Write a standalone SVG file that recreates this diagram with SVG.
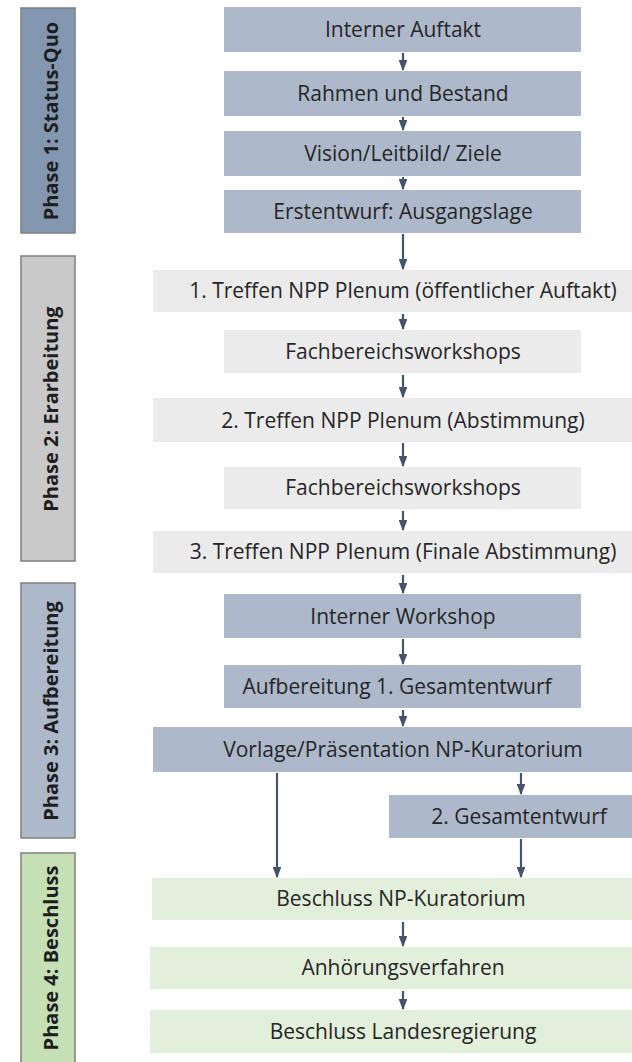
<svg xmlns="http://www.w3.org/2000/svg" width="632" height="1062" viewBox="0 0 632 1062">
<style>
.blue{fill:#adb9ca}
.gray{fill:#ebebeb}
.green{fill:#e2efda}
.t{font-family:"Open Sans","Liberation Sans",sans-serif;font-size:21px;fill:#262626;text-anchor:middle}
.ph{font-family:"Open Sans","Liberation Sans",sans-serif;font-size:20px;font-weight:bold;fill:#1e1e1e;text-anchor:middle}
.pb{stroke:#7f7f7f;stroke-width:1.5}
.c{stroke:#44546a;stroke-width:2.2;fill:none}
</style>
<defs>
<marker id="ah" markerWidth="5" markerHeight="4" refX="4.5" refY="2" orient="auto" markerUnits="strokeWidth">
<path d="M0,0 L5,2 L0,4 Z" fill="#44546a"/>
</marker>
</defs>
<rect width="632" height="1062" fill="#ffffff"/>
<g id="phase1"><rect class="pb" x="21" y="8" width="54" height="225" fill="#8497b0"/><text class="ph" transform="translate(58,121) rotate(-90)">Phase  1: Status-Quo</text></g>
<g id="phase2"><rect class="pb" x="21" y="256" width="54" height="305" fill="#c9c9c9"/><text class="ph" transform="translate(58,409) rotate(-90)">Phase  2: Erarbeitung</text></g>
<g id="phase3"><rect class="pb" x="21" y="583" width="54" height="255" fill="#adb9ca"/><text class="ph" transform="translate(58,711) rotate(-90)">Phase  3: Aufbereitung</text></g>
<g id="phase4"><rect class="pb" x="21" y="853" width="54" height="215" fill="#c5e0b4"/><text class="ph" transform="translate(58,958) rotate(-90)">Phase  4: Beschluss</text></g>

<g id="n1"><rect class="blue" x="224" y="7" width="357" height="45"/><text class="t" x="403" y="37">Interner Auftakt</text></g>
<g id="n2"><rect class="blue" x="224" y="71" width="357" height="45"/><text class="t" x="403" y="101">Rahmen und Bestand</text></g>
<g id="n3"><rect class="blue" x="224" y="131" width="357" height="45"/><text class="t" x="403" y="161">Vision/Leitbild/ Ziele</text></g>
<g id="n4"><rect class="blue" x="224" y="190" width="357" height="43"/><text class="t" x="403" y="219">Erstentwurf: Ausgangslage</text></g>
<g id="n5"><rect class="gray" x="153" y="270" width="479" height="42"/><text class="t" x="403" y="298">1. Treffen NPP Plenum (öffentlicher Auftakt)</text></g>
<g id="n6"><rect class="gray" x="224" y="330" width="357" height="43"/><text class="t" x="403" y="359">Fachbereichsworkshops</text></g>
<g id="n7"><rect class="gray" x="153" y="398" width="479" height="44"/><text class="t" x="403" y="428">2. Treffen NPP Plenum (Abstimmung)</text></g>
<g id="n8"><rect class="gray" x="224" y="467" width="357" height="42"/><text class="t" x="403" y="495">Fachbereichsworkshops</text></g>
<g id="n9"><rect class="gray" x="153" y="531" width="479" height="42"/><text class="t" x="403" y="559">3. Treffen NPP Plenum (Finale Abstimmung)</text></g>
<g id="n10"><rect class="blue" x="224" y="594" width="357" height="44"/><text class="t" x="403" y="624">Interner Workshop</text></g>
<g id="n11"><rect class="blue" x="224" y="665" width="357" height="43"/><text class="t" x="397" y="694">Aufbereitung 1. Gesamtentwurf</text></g>
<g id="n12"><rect class="blue" x="153" y="727" width="479" height="45"/><text class="t" x="403" y="757">Vorlage/Präsentation NP-Kuratorium</text></g>
<g id="n13"><rect class="blue" x="389" y="795" width="243" height="43"/><text class="t" x="519" y="824">2. Gesamtentwurf</text></g>
<g id="n14"><rect class="green" x="152" y="878" width="480" height="42"/><text class="t" x="401" y="906">Beschluss NP-Kuratorium</text></g>
<g id="n15"><rect class="green" x="150" y="947" width="482" height="42"/><text class="t" x="403" y="975">Anhörungsverfahren</text></g>
<g id="n16"><rect class="green" x="150" y="1010" width="482" height="43"/><text class="t" x="403" y="1039">Beschluss Landesregierung</text></g>

<g id="connectors">
<line class="c" x1="403" y1="53" x2="403" y2="70" marker-end="url(#ah)"/>
<line class="c" x1="403" y1="117" x2="403" y2="130" marker-end="url(#ah)"/>
<line class="c" x1="403" y1="177" x2="403" y2="189" marker-end="url(#ah)"/>
<line class="c" x1="403" y1="234" x2="403" y2="269" marker-end="url(#ah)"/>
<line class="c" x1="403" y1="314" x2="403" y2="329" marker-end="url(#ah)"/>
<line class="c" x1="403" y1="375" x2="403" y2="397" marker-end="url(#ah)"/>
<line class="c" x1="403" y1="443" x2="403" y2="466" marker-end="url(#ah)"/>
<line class="c" x1="403" y1="511" x2="403" y2="530" marker-end="url(#ah)"/>
<line class="c" x1="403" y1="575" x2="403" y2="593" marker-end="url(#ah)"/>
<line class="c" x1="403" y1="639" x2="403" y2="664" marker-end="url(#ah)"/>
<line class="c" x1="403" y1="710" x2="403" y2="726" marker-end="url(#ah)"/>
<line class="c" x1="521" y1="773" x2="521" y2="794" marker-end="url(#ah)"/>
<line class="c" x1="277" y1="773" x2="277" y2="877" marker-end="url(#ah)"/>
<line class="c" x1="521" y1="839" x2="521" y2="877" marker-end="url(#ah)"/>
<line class="c" x1="403" y1="922" x2="403" y2="946" marker-end="url(#ah)"/>
<line class="c" x1="403" y1="991" x2="403" y2="1009" marker-end="url(#ah)"/>
</g>
</svg>
